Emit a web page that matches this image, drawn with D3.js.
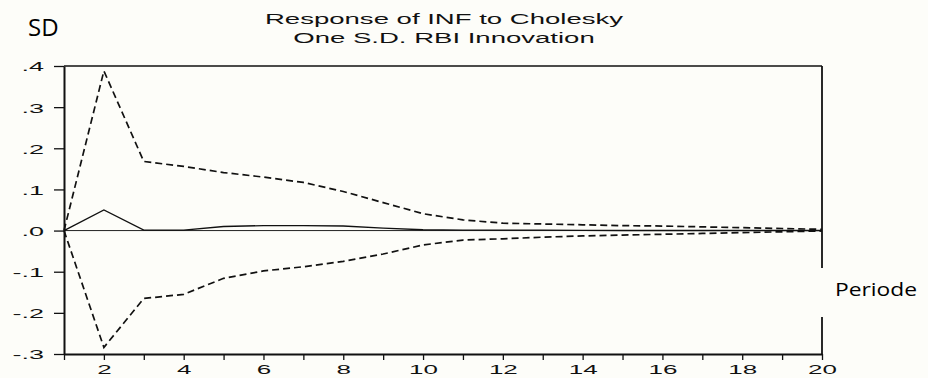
<!DOCTYPE html>
<html>
<head>
<meta charset="utf-8">
<script src="https://cdn.jsdelivr.net/npm/d3@7"></script>
<style>
  body { margin: 0; background: #fdfdf9; }
  svg { display: block; }
</style>
</head>
<body>
<svg id="chart" width="928" height="378"></svg>
<script>
"use strict";

// periods (x) and the three impulse-response series
const periods = [1, 2, 3, 4, 5, 6, 7, 8, 9, 10, 11, 12, 13, 14, 15, 16, 17, 18, 19, 20];
const response = [0, 0.050, 0.001, 0.001, 0.010, 0.012, 0.012, 0.011, 0.006, 0.002, 0.001, 0.001, 0.001, 0.0005, 0.0003, 0.0002, 0.0001, 0.0001, 0.0001, 0.0001];
const upper = [0, 0.388, 0.168, 0.156, 0.141, 0.130, 0.117, 0.095, 0.068, 0.041, 0.026, 0.018, 0.016, 0.014, 0.012, 0.011, 0.009, 0.007, 0.005, 0.003];
const lower = [0, -0.284, -0.165, -0.155, -0.116, -0.098, -0.088, -0.075, -0.057, -0.035, -0.023, -0.020, -0.016, -0.013, -0.011, -0.009, -0.007, -0.005, -0.003, -0.001];

const xLabels = [2, 4, 6, 8, 10, 12, 14, 16, 18, 20];
const yTicks = [0.4, 0.3, 0.2, 0.1, 0, -0.1, -0.2, -0.3];
const yLabels = [".4", ".3", ".2", ".1", ".0", "-.1", "-.2", "-.3"];

const titleLines = ["Response of INF to Cholesky", "One S.D. RBI Innovation"];

const plotLeft = 64, plotRight = 822, plotTop = 66, plotBottom = 354;
const stretch = 2.0; // eviews text looks squeezed wide

const svg = d3.select("#chart");

const x = d3.scaleLinear().domain([1, 20]).range([plotLeft, plotRight]);
const y = d3.scaleLinear().domain([-0.3, 0.4]).range([plotBottom, plotTop]);

// frame top + right
svg.append("line")
  .attr("x1", plotLeft).attr("x2", plotRight).attr("y1", plotTop).attr("y2", plotTop)
  .attr("stroke", "#111").attr("stroke-width", 1.5);
svg.append("line")
  .attr("x1", plotRight).attr("x2", plotRight).attr("y1", plotTop).attr("y2", plotBottom)
  .attr("stroke", "#111").attr("stroke-width", 1.8);

// zero line
svg.append("line")
  .attr("x1", plotLeft).attr("x2", plotRight).attr("y1", y(0)).attr("y2", y(0))
  .attr("stroke", "#222").attr("stroke-width", 1);

// left axis
const yAxis = svg.append("g")
  .attr("transform", `translate(${plotLeft},0)`)
  .call(d3.axisLeft(y)
    .tickValues(yTicks)
    .tickSize(10)
    .tickSizeOuter(0)
    .tickFormat((d, i) => yLabels[i]));

yAxis.select(".domain").attr("stroke", "#111").attr("stroke-width", 2);
yAxis.selectAll(".tick line").attr("stroke", "#111").attr("stroke-width", 1.3);
yAxis.selectAll(".tick text")
  .attr("x", 0)
  .attr("dy", "0.36em")
  .attr("transform", `translate(-20,0) scale(${stretch},1)`)
  .attr("font-family", "Liberation Sans, Arial, sans-serif")
  .attr("font-size", 13.5)
  .attr("fill", "#111");

// bottom axis
const xAxis = svg.append("g")
  .attr("transform", `translate(0,${plotBottom})`)
  .call(d3.axisBottom(x)
    .tickValues(periods)
    .tickSize(6)
    .tickSizeOuter(0)
    .tickFormat(d => xLabels.includes(d) ? d : ""));

xAxis.select(".domain").attr("stroke", "#111").attr("stroke-width", 2);
xAxis.selectAll(".tick line").attr("stroke", "#111").attr("stroke-width", 1.3);
xAxis.selectAll(".tick text")
  .attr("y", 20)
  .attr("dy", 0)
  .attr("transform", `scale(${stretch},1)`)
  .attr("font-family", "Liberation Sans, Arial, sans-serif")
  .attr("font-size", 13)
  .attr("fill", "#111");

// series
const line = d3.line()
  .x((d, i) => x(periods[i]))
  .y(d => y(d));

svg.append("path")
  .datum(upper)
  .attr("d", line)
  .attr("fill", "none")
  .attr("stroke", "#111")
  .attr("stroke-width", 1.7)
  .attr("stroke-dasharray", "7,4");

svg.append("path")
  .datum(lower)
  .attr("d", line)
  .attr("fill", "none")
  .attr("stroke", "#111")
  .attr("stroke-width", 1.7)
  .attr("stroke-dasharray", "7,4");

svg.append("path")
  .datum(response)
  .attr("d", line)
  .attr("fill", "none")
  .attr("stroke", "#111")
  .attr("stroke-width", 1.4);

// title
titleLines.forEach((t, i) => {
  svg.append("text")
    .attr("transform", `translate(444,${24 + i * 19}) scale(1.9,1)`)
    .attr("text-anchor", "middle")
    .attr("font-family", "Liberation Sans, Arial, sans-serif")
    .attr("font-size", 14.5)
    .attr("fill", "#111")
    .text(t);
});

// word-style annotations
svg.append("text")
  .attr("x", 28).attr("y", 36)
  .attr("font-family", "Open Sans, sans-serif")
  .attr("font-size", 24)
  .attr("fill", "#000")
  .text("SD");

svg.append("rect")
  .attr("x", 818).attr("y", 268)
  .attr("width", 110).attr("height", 49)
  .attr("fill", "#fdfdf9");

svg.append("text")
  .attr("transform", "translate(835,296) scale(1.2,1)")
  .attr("font-family", "Open Sans, sans-serif")
  .attr("font-size", 19)
  .attr("fill", "#000")
  .text("Periode");
</script>
</body>
</html>
